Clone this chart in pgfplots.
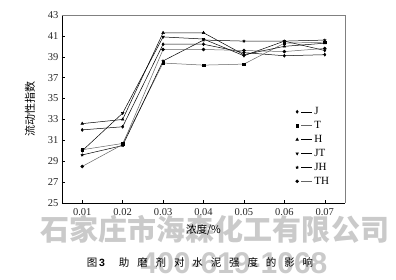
\documentclass[border=0pt]{standalone}
\usepackage{pgfplots}
\pgfplotsset{compat=1.18}
\usepackage{fontspec}
\setmainfont{Liberation Serif}
\newfontfamily\cjk{Noto Sans CJK SC}
\newfontfamily\wmsans{Liberation Sans}
\definecolor{wm}{RGB}{202,202,202}
\begin{document}
\begin{tikzpicture}[x=1pt,y=1pt]
\path[use as bounding box] (-62,-76) rectangle (334,203);
% watermark
\node[text=wm,font={\cjk\bfseries\fontsize{29}{29}\selectfont},anchor=center] at (153,-26) {石家庄市海森化工有限公司};
\node[text=wm,font={\wmsans\bfseries\fontsize{30}{30}\selectfont},anchor=center] at (172,-60) {400-619-1068};
\begin{axis}[
  anchor=origin, at={(0,0)},
  scale only axis, width=283pt, height=188pt,
  xmin=0.005, xmax=0.075, ymin=25, ymax=43,
  scaled x ticks=false,
  xtick={0.01,0.02,0.03,0.04,0.05,0.06,0.07},
  xticklabels={0.01,0.02,0.03,0.04,0.05,0.06,0.07},
  ytick={25,27,29,31,33,35,37,39,41,43},
  yticklabels={25,27,29,31,33,35,37,39,41,43},
  axis x line*=bottom, axis y line*=left,
  axis line style={-, black, line width=0.6pt},
  tick align=inside, major tick length=3pt,
  tick style={black, line width=0.5pt},
  ticklabel style={font=\fontsize{10.5}{11}\selectfont, text=black!85},
  xticklabel style={yshift=-2pt},
  xlabel={\cjk 浓度/\%},
  ylabel={\cjk 流动性指数},
  every axis x label/.style={at={(axis description cs:0.5,0)}, anchor=center, yshift=-27pt, font=\fontsize{10.5}{11}\selectfont},
  every axis y label/.style={at={(axis description cs:-0.113,0.5)}, anchor=center, rotate=90, font=\fontsize{11}{12}\selectfont},
  clip=false,
  legend style={at={(rel axis cs:0.825,0.52)}, anchor=north west, draw=none, fill=none, font=\fontsize{11}{12}\selectfont, row sep=1.2pt, inner sep=0pt},
  legend cell align=left,
  legend image code/.code={\draw[#1] plot coordinates {(0pt,0pt)}; \draw[#1,mark=none] (4pt,0pt) -- (15pt,0pt);},
  every axis plot/.append style={line width=0.5pt, mark size=1.5pt},
]
\draw[gray, line width=0.8pt] (rel axis cs:0,1) -- (rel axis cs:1,1) -- (rel axis cs:1,0);
\addplot[black, mark=diamond*] coordinates {(0.01,32.0) (0.02,32.3) (0.03,40.2) (0.04,40.2) (0.05,39.4) (0.06,39.1) (0.07,39.2)};
\addlegendentry{J}
\addplot[black!60, mark=square*, mark options={black}, mark size=1.3pt] coordinates {(0.01,30.1) (0.02,30.7) (0.03,38.4) (0.04,38.2) (0.05,38.3) (0.06,40.3) (0.07,40.4)};
\addlegendentry{T}
\addplot[black, mark=triangle*] coordinates {(0.01,32.6) (0.02,33.0) (0.03,41.3) (0.04,41.3) (0.05,39.2) (0.06,40.0) (0.07,40.3)};
\addlegendentry{H}
\addplot[black, mark=triangle*, mark options={rotate=180}] coordinates {(0.01,30.0) (0.02,33.6) (0.03,40.9) (0.04,40.7) (0.05,39.1) (0.06,40.5) (0.07,39.6)};
\addlegendentry{JT}
\addplot[black, mark=star, mark options={line width=0.8pt}] coordinates {(0.01,29.6) (0.02,30.5) (0.03,38.6) (0.04,40.6) (0.05,40.5) (0.06,40.5) (0.07,40.6)};
\addlegendentry{JH}
\addplot[black!60, mark=*, mark options={black}] coordinates {(0.01,28.5) (0.02,30.6) (0.03,39.7) (0.04,39.7) (0.05,39.6) (0.06,39.5) (0.07,39.8)};
\addlegendentry{TH}
\end{axis}
\node[anchor=center, font={\cjk\fontsize{10.5}{11}\selectfont}] at (138,-60) {图\,{\wmsans\bfseries 3}\hspace{14pt}\addfontfeature{LetterSpace=75}助磨剂对水泥强度的影响};
\end{tikzpicture}
\end{document}
